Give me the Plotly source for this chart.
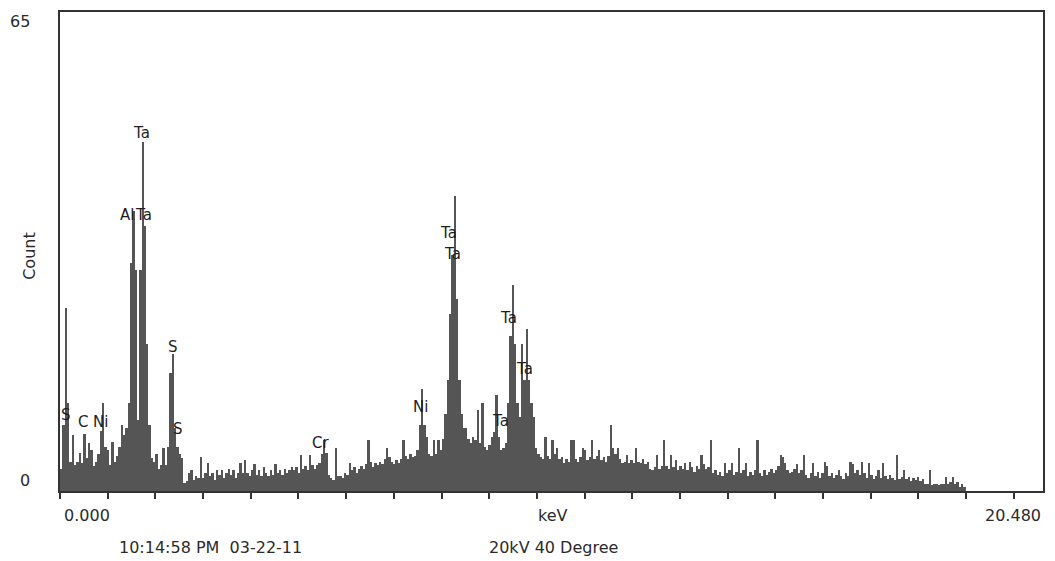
import plotly.graph_objects as go

# EDS spectrum: counts per 0.05 keV channel group, starting at 0 keV
CHANNEL_KEV = 0.05
counts = [
    # 0-1 keV
    3, 9, 24.9, 12, 4, 7.6, 3.5, 4, 5.1, 3.8, 7.8, 4.5, 6.5, 5.5, 3.4, 4, 5, 8.2, 11.9, 6,
    # 1-2 keV
    5.5, 3.5, 6.6, 4, 4.7, 6, 8.9, 7.6, 8.5, 12, 31, 38, 30, 9.6, 30, 47.4, 36, 20, 9, 4.5,
    # 2-3 keV
    4, 5, 3, 3.5, 5.8, 3.5, 6, 16, 18.6, 8.5, 6, 5, 4.5, 1.1, 1.3, 2.5, 2.8, 1.5, 2, 1.8,
    # 3-4 keV
    4.6, 1.8, 2.5, 3.8, 2, 2.5, 1.5, 2.8, 2.2, 2.8, 1.8, 2.5, 3, 2.2, 2.8, 1.8, 2.5, 3.8, 2.5, 4.2,
    # 4-5 keV
    2.5, 2, 2.8, 3.7, 2.2, 2.8, 2, 3.2, 2.5, 2, 2.8, 2.2, 3.7, 2.5, 2.8, 2.2, 3, 2.5, 2.8, 3.2,
    # 5-6 keV
    2.8, 3.2, 2.5, 4.9, 3, 3.4, 2.8, 4.9, 3.5, 3, 3.5, 3.8, 5, 6.9, 5.1, 2.2, 1.8, 1.5, 5.8, 2,
    # 6-7 keV
    2, 1.8, 2.5, 2.2, 3.8, 2.8, 3.2, 2.5, 3, 3.4, 3, 3.6, 6.9, 4, 3.2, 3.8, 3.5, 4, 3.6, 4.4,
    # 7-8 keV
    5.8, 4.6, 4, 3.6, 4.2, 3.8, 4.4, 6.9, 4.8, 4.4, 5, 4.6, 4.8, 5.5, 8.9, 13.9, 9, 7.3, 5, 4.8,
    # 8-9 keV
    6.9, 5, 6.9, 5.5, 7, 10.5, 15, 24, 32, 40, 26, 15, 10.5, 8.6, 8.6, 7, 6.5, 7.3, 6.9, 11,
    # 9-10 keV
    6.5, 11.9, 6, 5.5, 6.2, 7.3, 8, 13, 7.3, 5.5, 5.8, 6.5, 12, 21, 28, 20, 12, 10, 20, 15,
    # 10-11 keV
    22, 15, 12, 10, 5.8, 5, 4.6, 4.4, 7.3, 4.8, 4.4, 6.9, 5, 5.8, 4.4, 4.6, 3.8, 4.4, 4, 6.9,
    # 11-12 keV
    6.9, 4.4, 4, 4.6, 5.8, 5.5, 4.2, 4.6, 6.9, 4.4, 4.8, 5.6, 4.2, 4.6, 4, 4.8, 8.9, 5.8, 5, 5.8,
    # 12-13 keV
    4.4, 3.8, 4, 4.9, 3.8, 4.2, 3.8, 5.8, 4, 3.8, 4.4, 3.6, 4, 3, 2.8, 3.2, 4.9, 3, 3.4, 6.9,
    # 13-14 keV
    3.4, 3, 4.9, 3.2, 4.2, 2.8, 3.4, 3, 3.8, 2.8, 4, 3.2, 2.6, 3.4, 3, 4.9, 3.6, 3, 3.2, 6.9,
    # 14-15 keV
    2.4, 2.8, 2.2, 2.6, 2, 3.8, 2.4, 2.8, 3.8, 2.2, 2.6, 5.8, 2.4, 2.8, 3.8, 2, 2.6, 2.2, 2.8, 6.9,
    # 15-16 keV
    2.4, 2, 2.8, 2.2, 2.6, 3, 2.4, 2.8, 3.4, 4.9, 4.6, 3.8, 2.8, 2.4, 2.6, 3, 3.6, 2.4, 2.8, 4.9,
    # 16-17 keV
    2.2, 1.8, 2.4, 3.8, 2, 2.6, 1.8, 2.4, 4, 3.4, 2, 2.4, 1.8, 2.2, 2.9, 2, 1.6, 2.4, 2, 4,
    # 17-18 keV
    3.6, 2.4, 2.8, 2.2, 4, 2.4, 1.8, 3.8, 2.2, 1.6, 2, 2.8, 1.8, 3.8, 2, 1.6, 2.2, 1.8, 1.5, 4.9,
    # 18-19 keV
    1.6, 1.9, 2.9, 1.6, 1.9, 1.4, 1.8, 1.5, 1.9, 1.4, 1.6, 0.9, 0.9, 2.8, 0.8, 0.9, 0.9, 0.8, 0.9, 0.9,
    # 19+ keV
    1.9, 0.9, 1.2, 1.9, 0.9, 1.2, 0.6, 0.9, 0.6,
]

# Element line markers: (label, keV, count)
peak_labels = ["Ta", "Al", "Ta", "S", "S", "S", "C", "Ni", "Cr", "Ni",
               "Ta", "Ta", "Ta", "Ta", "Ta"]
peak_kev = [1.76, 1.443, 1.797, 2.42, 2.527, 0.122, 0.488, 0.874, 5.598, 7.745,
            8.347, 8.432, 9.635, 9.98, 9.463]
peak_count = [48.6, 37.4, 37.4, 19.6, 8.4, 10.3, 9.3, 9.3, 6.5, 11.35,
              35.0, 32.1, 23.5, 16.5, 9.5]

FULL_SCALE_KEV = 20.48
N_DIVISIONS = 20
Y_MAX = 65

energies = [(i + 0.5) * CHANNEL_KEV for i in range(len(counts))]
tick_kev = [FULL_SCALE_KEV * k / N_DIVISIONS for k in range(N_DIVISIONS + 1)]

FONT = "DejaVu Sans"
TEXT = "#2b2b2b"

fig = go.Figure(
    go.Bar(
        x=energies,
        y=counts,
        width=CHANNEL_KEV,
        marker=dict(color="#555555", line=dict(width=0)),
        hoverinfo="x+y",
    )
)

annotations = []
for lab, xk, yc in zip(peak_labels, peak_kev, peak_count):
    annotations.append(dict(
        x=xk, y=yc, xref="x", yref="y", text=lab, showarrow=False,
        font=dict(family=FONT, size=15, color="#1e1e1e"),
        xanchor="center", yanchor="middle", borderpad=0,
    ))

def paper_text(text, x, y, xanchor="center", angle=0):
    return dict(
        x=x, y=y, xref="paper", yref="paper", text=text, showarrow=False,
        font=dict(family=FONT, size=16, color=TEXT),
        xanchor=xanchor, yanchor="middle", textangle=angle,
    )

annotations += [
    paper_text("65", -0.028, 0.980, "right"),
    paper_text("0", -0.028, 0.022, "right"),
    paper_text("Count", -0.031, 0.49, "center", -90),
    paper_text("0.000", 0.002, -0.052, "left"),
    paper_text("keV", 0.5015, -0.052, "center"),
    paper_text("20.480", 1.0, -0.052, "right"),
    paper_text("10:14:58 PM  03-22-11", 0.1536, -0.117, "center"),
    paper_text("20kV 40 Degree", 0.502, -0.117, "center"),
]

fig.update_layout(
    width=1055,
    height=561,
    margin=dict(l=60, r=12, t=10, b=70),
    paper_bgcolor="white",
    plot_bgcolor="white",
    bargap=0,
    showlegend=False,
    annotations=annotations,
    xaxis=dict(
        range=[0, 21.108],
        tickvals=tick_kev,
        showticklabels=False,
        ticks="outside",
        ticklen=6,
        tickwidth=1.5,
        tickcolor="#333333",
        showgrid=False,
        zeroline=False,
        showline=True,
        linecolor="#333333",
        linewidth=2,
        mirror=True,
    ),
    yaxis=dict(
        range=[0, Y_MAX],
        showticklabels=False,
        ticks="",
        showgrid=False,
        zeroline=False,
        showline=True,
        linecolor="#333333",
        linewidth=2,
        mirror=True,
    ),
)

fig.write_html("out.html")
